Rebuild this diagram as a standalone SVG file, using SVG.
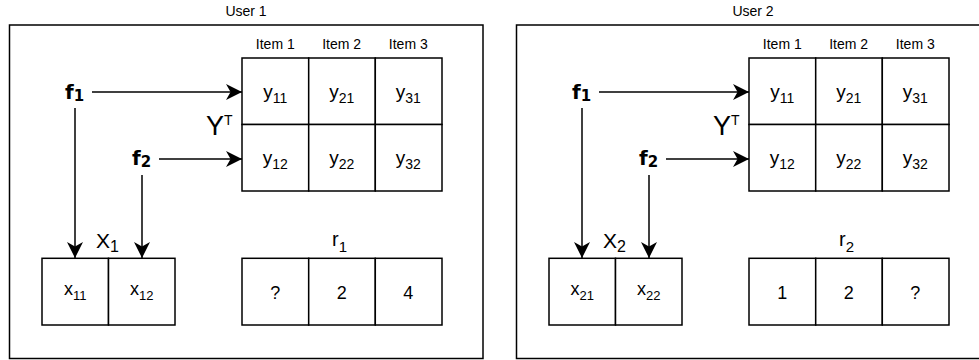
<svg xmlns="http://www.w3.org/2000/svg" width="979" height="360" viewBox="0 0 979 360">
<style>
.panel{fill:#fff;stroke:#000;stroke-width:1.5}
.cell{fill:#fff;stroke:#000;stroke-width:1.5}
.t{font-family:"Liberation Sans",Arial,sans-serif;fill:#000}
.lbl{font-size:14px;text-anchor:middle}
.cv{font-size:19px;text-anchor:middle}
.xv{font-size:18px;text-anchor:middle}
.sb{font-size:14px}
.f{font-family:"DejaVu Sans",sans-serif;font-weight:bold;font-size:20px;fill:#000}
.big{font-size:21px}
.conn{stroke:#000;stroke-width:1.5;fill:none;marker-end:url(#arr)}
</style>
<defs>
<marker id="arr" markerUnits="userSpaceOnUse" markerWidth="16" markerHeight="16" refX="14" refY="7" orient="auto" viewBox="0 0 14 14">
<path d="M0,0 L14,7 L0,14 L4,7 Z" fill="#000"/>
</marker>
</defs>
<rect width="979" height="360" fill="#fff"/>

<g id="panel1">
<g id="user1-frame">
<rect class="panel" x="9.5" y="25" width="473.5" height="333.5"/>
<text class="t lbl" x="246" y="16">User 1</text>
</g>
<g id="yt1">
<text class="t lbl" x="275.3" y="49">Item 1</text>
<text class="t lbl" x="341.7" y="49">Item 2</text>
<text class="t lbl" x="408.3" y="49">Item 3</text>
<rect class="cell" x="242" y="58" width="66.7" height="66.5"/>
<rect class="cell" x="308.7" y="58" width="66.6" height="66.5"/>
<rect class="cell" x="375.3" y="58" width="66.7" height="66.5"/>
<rect class="cell" x="242" y="124.5" width="66.7" height="66.5"/>
<rect class="cell" x="308.7" y="124.5" width="66.6" height="66.5"/>
<rect class="cell" x="375.3" y="124.5" width="66.7" height="66.5"/>
<text class="t cv" x="275.3" y="97.5">y<tspan class="sb" dy="5">11</tspan></text>
<text class="t cv" x="341.7" y="97.5">y<tspan class="sb" dy="5">21</tspan></text>
<text class="t cv" x="408.3" y="97.5">y<tspan class="sb" dy="5">31</tspan></text>
<text class="t cv" x="275.3" y="164">y<tspan class="sb" dy="5">12</tspan></text>
<text class="t cv" x="341.7" y="164">y<tspan class="sb" dy="5">22</tspan></text>
<text class="t cv" x="408.3" y="164">y<tspan class="sb" dy="5">32</tspan></text>
<text class="t" x="206" y="134.5" font-size="27">Y<tspan font-size="14" dy="-9.5">T</tspan></text>
</g>
<g id="f1-1"><text class="f" x="65" y="98.7">f<tspan font-size="15" dy="2">1</tspan></text></g>
<g id="f2-1"><text class="f" x="132" y="165.4">f<tspan font-size="15" dy="2">2</tspan></text></g>
<g id="x1">
<text class="t big" x="96" y="248.3">X<tspan font-size="16" dy="4">1</tspan></text>
<rect class="cell" x="42" y="258.3" width="66.5" height="66.7"/>
<rect class="cell" x="108.5" y="258.3" width="66.5" height="66.7"/>
<text class="t xv" x="75.3" y="295">x<tspan font-size="13" dy="5">11</tspan></text>
<text class="t xv" x="141.7" y="295">x<tspan font-size="13" dy="5">12</tspan></text>
</g>
<g id="r1">
<text class="t" font-size="20" x="332" y="246">r<tspan font-size="15" dy="6">1</tspan></text>
<rect class="cell" x="242" y="258.3" width="66.7" height="66.7"/>
<rect class="cell" x="308.7" y="258.3" width="66.6" height="66.7"/>
<rect class="cell" x="375.3" y="258.3" width="66.7" height="66.7"/>
<text class="t xv" x="275.3" y="298.5">?</text>
<text class="t xv" x="341.7" y="298.5">2</text>
<text class="t xv" x="408.3" y="298.5">4</text>
</g>
<g id="connectors1">
<path class="conn" d="M92,92 H242"/>
<path class="conn" d="M159,159 H242"/>
<path class="conn" d="M75,108 V258"/>
<path class="conn" d="M142,175 V258"/>
</g>
</g>

<g id="panel2" transform="translate(507,0)">
<g id="user2-frame">
<rect class="panel" x="9.5" y="25" width="473.5" height="333.5"/>
<text class="t lbl" x="246" y="16">User 2</text>
</g>
<g id="yt2">
<text class="t lbl" x="275.3" y="49">Item 1</text>
<text class="t lbl" x="341.7" y="49">Item 2</text>
<text class="t lbl" x="408.3" y="49">Item 3</text>
<rect class="cell" x="242" y="58" width="66.7" height="66.5"/>
<rect class="cell" x="308.7" y="58" width="66.6" height="66.5"/>
<rect class="cell" x="375.3" y="58" width="66.7" height="66.5"/>
<rect class="cell" x="242" y="124.5" width="66.7" height="66.5"/>
<rect class="cell" x="308.7" y="124.5" width="66.6" height="66.5"/>
<rect class="cell" x="375.3" y="124.5" width="66.7" height="66.5"/>
<text class="t cv" x="275.3" y="97.5">y<tspan class="sb" dy="5">11</tspan></text>
<text class="t cv" x="341.7" y="97.5">y<tspan class="sb" dy="5">21</tspan></text>
<text class="t cv" x="408.3" y="97.5">y<tspan class="sb" dy="5">31</tspan></text>
<text class="t cv" x="275.3" y="164">y<tspan class="sb" dy="5">12</tspan></text>
<text class="t cv" x="341.7" y="164">y<tspan class="sb" dy="5">22</tspan></text>
<text class="t cv" x="408.3" y="164">y<tspan class="sb" dy="5">32</tspan></text>
<text class="t" x="206" y="134.5" font-size="27">Y<tspan font-size="14" dy="-9.5">T</tspan></text>
</g>
<g id="f1-2"><text class="f" x="65" y="98.7">f<tspan font-size="15" dy="2">1</tspan></text></g>
<g id="f2-2"><text class="f" x="132" y="165.4">f<tspan font-size="15" dy="2">2</tspan></text></g>
<g id="x2">
<text class="t big" x="96" y="248.3">X<tspan font-size="16" dy="4">2</tspan></text>
<rect class="cell" x="42" y="258.3" width="66.5" height="66.7"/>
<rect class="cell" x="108.5" y="258.3" width="66.5" height="66.7"/>
<text class="t xv" x="75.3" y="295">x<tspan font-size="13" dy="5">21</tspan></text>
<text class="t xv" x="141.7" y="295">x<tspan font-size="13" dy="5">22</tspan></text>
</g>
<g id="r2">
<text class="t" font-size="20" x="332" y="246">r<tspan font-size="15" dy="6">2</tspan></text>
<rect class="cell" x="242" y="258.3" width="66.7" height="66.7"/>
<rect class="cell" x="308.7" y="258.3" width="66.6" height="66.7"/>
<rect class="cell" x="375.3" y="258.3" width="66.7" height="66.7"/>
<text class="t xv" x="275.3" y="298.5">1</text>
<text class="t xv" x="341.7" y="298.5">2</text>
<text class="t xv" x="408.3" y="298.5">?</text>
</g>
<g id="connectors2">
<path class="conn" d="M92,92 H242"/>
<path class="conn" d="M159,159 H242"/>
<path class="conn" d="M75,108 V258"/>
<path class="conn" d="M142,175 V258"/>
</g>
</g>
</svg>
